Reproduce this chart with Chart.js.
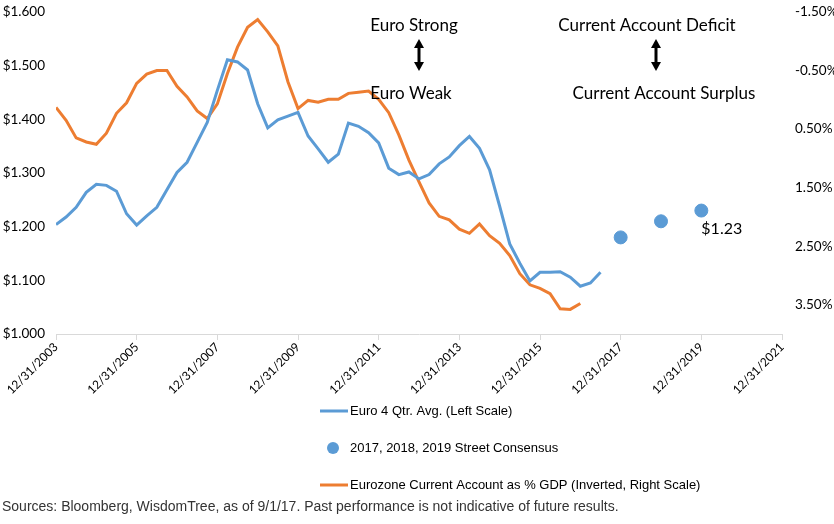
<!DOCTYPE html>
<html>
<head>
<meta charset="utf-8">
<script src="https://cdn.jsdelivr.net/npm/chart.js@4/dist/chart.umd.min.js"></script>
<style>
  body { margin: 0; background: #fff; }
  #wrap { width: 834px; height: 524px; position: relative; }
</style>
</head>
<body>
<div id="wrap"><canvas id="grafica"></canvas></div>
<script>
// x = years after 12/31/2003, quarterly points
const firstDate = 2003; // 12/31/2003
const xTicks = [0, 2, 4, 6, 8, 10, 12, 14, 16, 18];

// Euro 4 Qtr. Avg., 12/31/2003 .. 6/30/2017 (left scale)
const euroAvg = [
  1.204, 1.218, 1.236, 1.264, 1.279, 1.277, 1.266, 1.224, 1.203, 1.220,
  1.236, 1.269, 1.301, 1.320, 1.357, 1.394, 1.454, 1.511, 1.507, 1.492,
  1.429, 1.384, 1.399, 1.406, 1.413, 1.369, 1.345, 1.320, 1.335, 1.393,
  1.387, 1.375, 1.356, 1.309, 1.297, 1.302, 1.289, 1.297, 1.317, 1.330,
  1.351, 1.368, 1.346, 1.306, 1.238, 1.168, 1.132, 1.099, 1.115, 1.115,
  1.116, 1.106, 1.089, 1.095, 1.115
];

// Eurozone current account % GDP (inverted, right scale), 12/31/2003 .. 12/31/2016
const currentAccount = [
  0.13, 0.35, 0.65, 0.72, 0.76, 0.57, 0.23, 0.05, -0.28, -0.44,
  -0.50, -0.50, -0.23, -0.05, 0.19, 0.32, 0.07, -0.45, -0.90, -1.24,
  -1.37, -1.16, -0.92, -0.31, 0.15, 0.01, 0.04, -0.01, -0.01, -0.11,
  -0.13, -0.15, -0.01, 0.22, 0.60, 1.03, 1.40, 1.76, 1.99, 2.05,
  2.21, 2.28, 2.12, 2.32, 2.45, 2.66, 2.97, 3.16, 3.22, 3.31,
  3.57, 3.58, 3.48
];

// street consensus at 12/31/2017, 12/31/2018, 12/31/2019
const consensusX = [14, 15, 16];
const consensus = [1.18, 1.21, 1.23];

const leftTicks = [1.0, 1.1, 1.2, 1.3, 1.4, 1.5, 1.6];
const rightTicks = [-1.5, -0.5, 0.5, 1.5, 2.5, 3.5];

const azul = '#5B9BD5';
const naranja = '#ED7D31';
const fuente = "Lato, 'Open Sans', sans-serif";

const datosEuro = {
  label: 'Euro 4 Qtr. Avg. (Left Scale)',
  data: euroAvg.map((v, i) => ({ x: i / 4, y: v })),
  borderColor: azul,
  backgroundColor: azul,
  borderWidth: 3,
  pointRadius: 0,
  tension: 0,
  yAxisID: 'y'
};
const datosConsenso = {
  label: '2017, 2018, 2019 Street Consensus',
  data: consensus.map((v, i) => ({ x: consensusX[i], y: v })),
  borderColor: azul,
  backgroundColor: azul,
  showLine: false,
  pointRadius: 6.5,
  pointHoverRadius: 6.5,
  yAxisID: 'y'
};
const datosCuenta = {
  label: 'Eurozone Current Account as % GDP (Inverted, Right Scale)',
  data: currentAccount.map((v, i) => ({ x: i / 4, y: v })),
  borderColor: naranja,
  backgroundColor: naranja,
  borderWidth: 3,
  pointRadius: 0,
  tension: 0,
  yAxisID: 'y1'
};

function flecha(ctx, x, y1, y2) {
  ctx.strokeStyle = '#000';
  ctx.fillStyle = '#000';
  ctx.lineWidth = 3;
  ctx.beginPath();
  ctx.moveTo(x, y1 + 6);
  ctx.lineTo(x, y2 - 6);
  ctx.stroke();
  ctx.beginPath();
  ctx.moveTo(x, y1); ctx.lineTo(x - 5, y1 + 9); ctx.lineTo(x + 5, y1 + 9);
  ctx.closePath(); ctx.fill();
  ctx.beginPath();
  ctx.moveTo(x, y2); ctx.lineTo(x - 5, y2 - 9); ctx.lineTo(x + 5, y2 - 9);
  ctx.closePath(); ctx.fill();
}

const extras = {
  id: 'extras',
  afterDraw(chart) {
    const ctx = chart.ctx;
    ctx.save();
    // anotaciones
    ctx.fillStyle = '#000';
    ctx.font = '17px ' + fuente;
    ctx.textAlign = 'center';
    ctx.textBaseline = 'middle';
    ctx.fillText('Euro Strong', 414, 26);
    ctx.fillText('Euro Weak', 411, 94);
    ctx.fillText('Current Account Deficit', 647, 26);
    ctx.fillText('Current Account Surplus', 664, 94);
    flecha(ctx, 419, 39, 71);
    flecha(ctx, 656, 39, 71);
    // etiqueta del ultimo punto
    const xs = chart.scales.x, ys = chart.scales.y;
    const n = consensus.length - 1;
    ctx.font = '16px ' + fuente;
    ctx.textAlign = 'left';
    ctx.fillText('$' + consensus[n].toFixed(2), xs.getPixelForValue(consensusX[n]), ys.getPixelForValue(consensus[n]) + 18);
    // leyenda
    const filas = [411, 448, 485];
    ctx.font = "13px 'Liberation Sans Narrow', 'Liberation Sans', sans-serif";
    chart.data.datasets.forEach((ds, i) => {
      const y = filas[i];
      if (ds.showLine === false) {
        ctx.fillStyle = ds.backgroundColor;
        ctx.beginPath();
        ctx.arc(333, y, 6, 0, Math.PI * 2);
        ctx.fill();
      } else {
        ctx.strokeStyle = ds.borderColor;
        ctx.lineWidth = 3;
        ctx.beginPath();
        ctx.moveTo(320, y); ctx.lineTo(348, y);
        ctx.stroke();
      }
      ctx.fillStyle = '#000';
      ctx.fillText(ds.label, 350, y);
    });
    // fuente
    ctx.fillStyle = '#333';
    ctx.font = "14px 'Liberation Sans', Arial, sans-serif";
    ctx.fillText('Sources: Bloomberg, WisdomTree, as of 9/1/17. Past performance is not indicative of future results.', 2, 507);
    ctx.restore();
  }
};

// quitar el padding extra que agregan las etiquetas del eje
function sinPadding(s) {
  s.paddingTop = 0;
  s.paddingBottom = 0;
}

const $grafica = document.querySelector('#grafica');
new Chart($grafica, {
  type: 'line',
  data: { datasets: [datosEuro, datosConsenso, datosCuenta] },
  options: {
    responsive: true,
    maintainAspectRatio: false,
    animation: false,
    events: [],
    layout: { padding: { top: 12, bottom: 130, left: 0, right: 0 } },
    plugins: { legend: { display: false }, tooltip: { enabled: false } },
    scales: {
      x: {
        type: 'linear',
        min: 0,
        max: 18,
        afterBuildTicks: (s) => { s.ticks = xTicks.map(v => ({ value: v })); },
        afterFit: (s) => { s.height = 60; },
        grid: { drawOnChartArea: false, color: '#d9d9d9', tickLength: 6 },
        border: { color: '#d9d9d9' },
        ticks: {
          minRotation: 45,
          maxRotation: 45,
          padding: 0,
          color: '#000',
          font: { family: fuente, size: 12 },
          callback: (v) => '12/31/' + (firstDate + v)
        }
      },
      y: {
        position: 'left',
        min: 1.0,
        max: 1.6,
        afterBuildTicks: (s) => { s.ticks = leftTicks.map(v => ({ value: v })); },
        afterFit: (s) => { s.width = 56; sinPadding(s); },
        grid: { display: false, drawTicks: false },
        border: { display: false },
        ticks: {
          color: '#000',
          padding: 11,
          font: { family: fuente, size: 13.5 },
          callback: (v) => '$' + v.toFixed(3)
        }
      },
      y1: {
        position: 'right',
        reverse: true,
        min: -1.5,
        max: 4.0,
        afterBuildTicks: (s) => { s.ticks = rightTicks.map(v => ({ value: v })); },
        afterFit: (s) => { s.width = 52; sinPadding(s); },
        grid: { display: false, drawTicks: false },
        border: { display: false },
        ticks: {
          color: '#000',
          padding: 13,
          font: { family: fuente, size: 13.5 },
          callback: (v) => v.toFixed(2) + '%'
        }
      }
    }
  },
  plugins: [extras]
});
</script>
</body>
</html>
